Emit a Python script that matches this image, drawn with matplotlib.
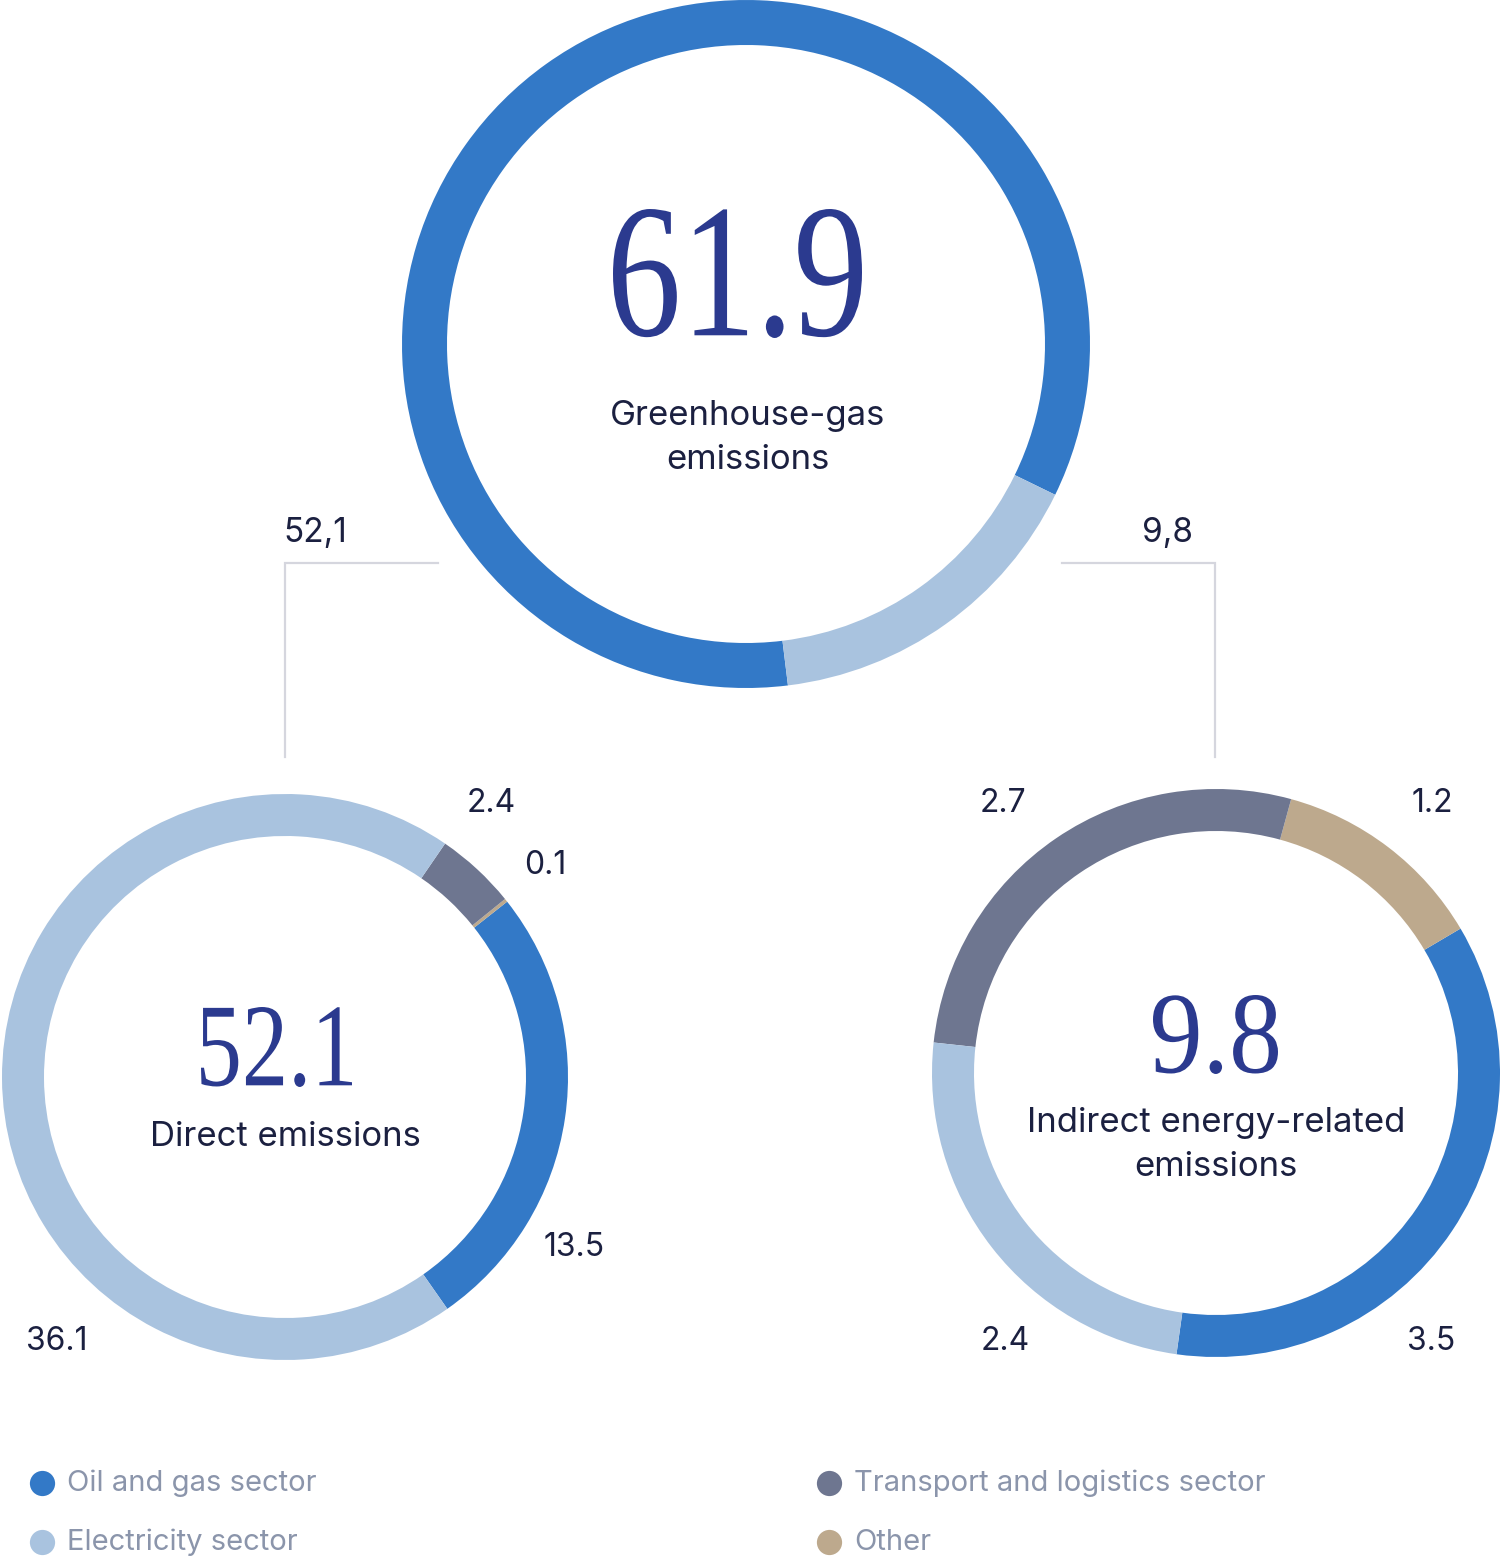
import matplotlib.pyplot as plt
from matplotlib.font_manager import FontProperties
from matplotlib.patches import PathPatch
from matplotlib.textpath import TextPath
from matplotlib.transforms import Affine2D

# ==========================================================
# Data
# ==========================================================

sectors = [
    "Oil and gas sector",
    "Electricity sector",
    "Transport and logistics sector",
    "Other",
]
sector_colors = ["#3379c7", "#a9c3df", "#6e7690", "#bda98d"]

total_value = 61.9
total_split = [52.1, 9.8]            # direct, indirect
direct_values = [13.5, 36.1, 2.4, 0.1]    # by sector
indirect_values = [3.5, 2.4, 2.7, 1.2]    # by sector

# ring drawing order (counter-clockwise): oil, other, transport, electricity
ring_order = [0, 3, 2, 1]

NAVY = "#2b3a8f"
TEXT = "#1b2040"
LEGEND_TEXT = "#8b95ab"
LINE = "#d5d6de"

SANS = ["Inter", "DejaVu Sans"]
SERIF_FP = FontProperties(family="Liberation Serif")

W, H = 1500, 1560


def Y(py):
    return H - py


# ==========================================================
# Figure
# ==========================================================

fig = plt.figure(figsize=(W / 100, H / 100), dpi=100)
ax = fig.add_axes([0, 0, 1, 1])


def ring(values, colors, center, radius, width, start):
    ax.pie(
        values,
        colors=colors,
        radius=radius,
        center=center,
        startangle=start,
        counterclock=True,
        wedgeprops=dict(width=width, linewidth=0),
    )


def fmt(v, sep="."):
    return f"{v:.1f}".replace(".", sep)


def big_number(s, x0, x1, y0, y1):
    # condensed serif figure fitted into a box (pixel coords, y down)
    path = TextPath((0, 0), s, size=100, prop=SERIF_FP)
    ext = path.get_extents()
    tr = (
        Affine2D()
        .translate(-ext.x0, -ext.y0)
        .scale((x1 - x0) / ext.width, (y1 - y0) / ext.height)
        .translate(x0, Y(y1))
    )
    ax.add_patch(PathPatch(tr.transform_path(path), color=NAVY, lw=0))


# top ring: direct vs indirect
ring(total_split, [sector_colors[0], sector_colors[1]],
     (746, Y(344)), 344, 45, -26)

# lower rings by sector
ring([direct_values[i] for i in ring_order],
     [sector_colors[i] for i in ring_order],
     (285, Y(1077)), 283, 42, -55)
ring([indirect_values[i] for i in ring_order],
     [sector_colors[i] for i in ring_order],
     (1216, Y(1073)), 284, 42, -98)

# ==========================================================
# Connectors
# ==========================================================

ax.plot([438, 285, 285], [Y(563), Y(563), Y(757)], color=LINE, lw=1.6,
        solid_joinstyle="miter")
ax.plot([1062, 1215, 1215], [Y(563), Y(563), Y(757)], color=LINE, lw=1.6,
        solid_joinstyle="miter")
ax.text(315, Y(533), fmt(total_split[0], ","), fontsize=24, color=TEXT,
        family=SANS, ha="center", va="center")
ax.text(1168, Y(533), fmt(total_split[1], ","), fontsize=24, color=TEXT,
        family=SANS, ha="center", va="center")

# ==========================================================
# Centre texts
# ==========================================================

big_number(fmt(total_value), 613, 862, 209, 338)
ax.text(748, Y(438), "Greenhouse-gas\nemissions", fontsize=25, color=TEXT,
        family=SANS, ha="center", va="center", linespacing=1.45)

big_number(fmt(total_split[0]), 201, 352, 1007, 1087)
ax.text(285, Y(1137), "Direct emissions", fontsize=25, color=TEXT,
        family=SANS, ha="center", va="center")

big_number(fmt(total_split[1]), 1153, 1278, 995, 1074)
ax.text(1216, Y(1145), "Indirect energy-related\nemissions", fontsize=25,
        color=TEXT, family=SANS, ha="center", va="center", linespacing=1.45)

# ==========================================================
# Segment value labels
# ==========================================================

direct_label_pos = [(574, 1248), (57, 1342), (491, 803), (545, 865)]
indirect_label_pos = [(1431, 1342), (1005, 1342), (1003, 803), (1432, 803)]

for v, (px, py) in zip(direct_values, direct_label_pos):
    ax.text(px, Y(py), fmt(v), fontsize=23, color=TEXT, family=SANS,
            ha="center", va="center")
for v, (px, py) in zip(indirect_values, indirect_label_pos):
    ax.text(px, Y(py), fmt(v), fontsize=23, color=TEXT, family=SANS,
            ha="center", va="center")

# ==========================================================
# Legend
# ==========================================================

legend_pos = [(42, 1483), (42, 1542), (829, 1483), (829, 1542)]
for name, color, (px, py) in zip(sectors, sector_colors, legend_pos):
    ax.scatter([px], [Y(py)], s=330, color=color, linewidths=0)
    ax.text(px + 25, Y(py), name, fontsize=21, color=LEGEND_TEXT,
            family=SANS, ha="left", va="center")

ax.set_xlim(0, W)
ax.set_ylim(0, H)
ax.set_aspect("equal", adjustable="box")
ax.axis("off")

fig.savefig("out.png", dpi=100, facecolor="white")
